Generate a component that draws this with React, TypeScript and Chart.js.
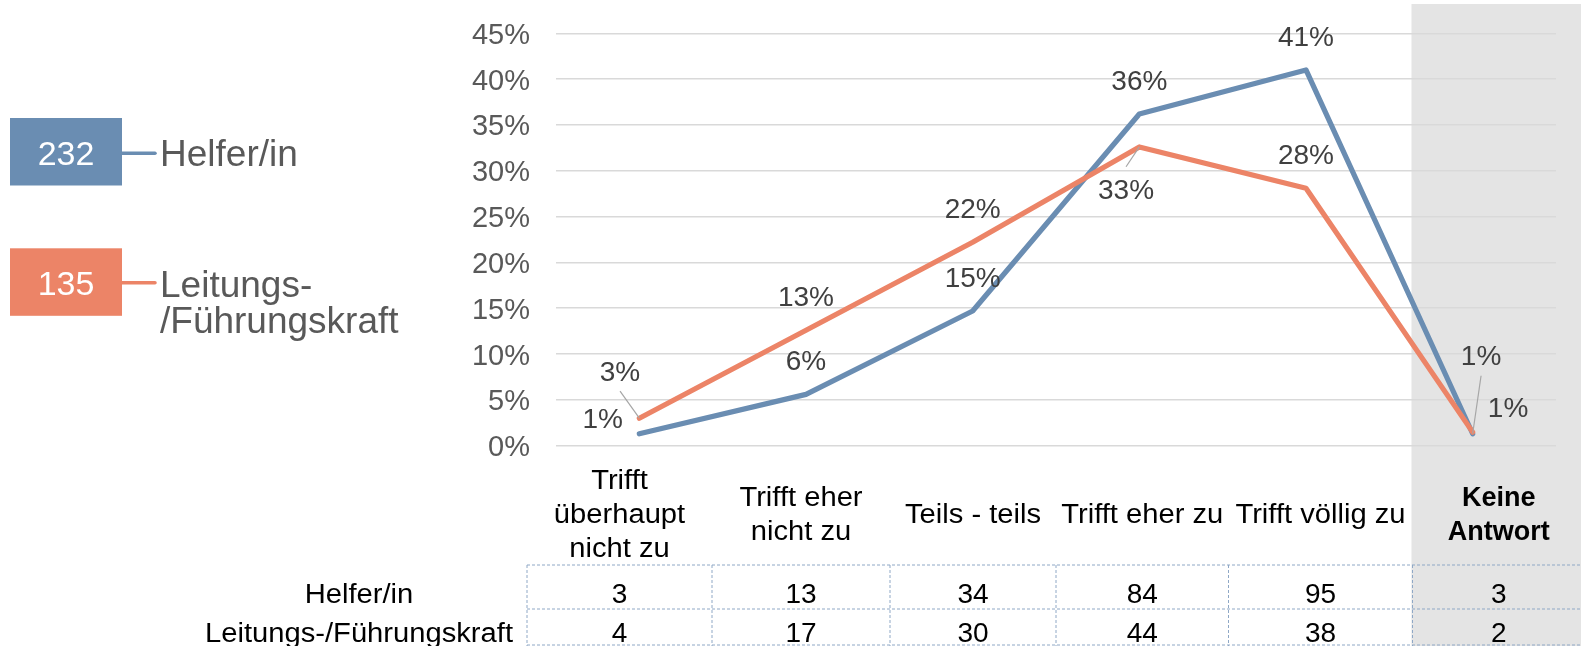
import React, { useEffect, useRef } from "react";
import { Chart, registerables } from "chart.js";

Chart.register(...registerables);

// ---------- data ----------
const categories: string[][] = [
  ["Trifft", "überhaupt", "nicht zu"],
  ["Trifft eher", "nicht zu"],
  ["Teils - teils"],
  ["Trifft eher zu"],
  ["Trifft völlig zu"],
  ["Keine", "Antwort"],
];
const seriesNames = ["Helfer/in", "Leitungs-/Führungskraft"];
const legendLines = [["Helfer/in"], ["Leitungs-", "/Führungskraft"]];
const totals = [232, 135];
const helferPct = [1.3, 5.6, 14.7, 36.2, 41.0, 1.3];
const leitungPct = [3.0, 12.6, 22.2, 32.6, 28.1, 1.48];
const helferCounts = [3, 13, 34, 84, 95, 3];
const leitungCounts = [4, 17, 30, 44, 38, 2];
const yMax = 45;
const yStep = 5;

// ---------- styles / layout ----------
const W = 1581;
const H = 646;
const FONT = '"Liberation Sans", Arial, sans-serif';
const BLUE = "#6A8DB2";
const ORANGE = "#EC8467";
const GRAY_BAND = "#E4E4E4";
const TABLE_BORDER = "#8FA8C6";
const PLOT_TOP = 33.3;
const PLOT_BOTTOM = 445.7;
// data label offsets relative to the point (label centre), and optional leader start offsets
const helferLabelOff = [[-36.6, -15.7], [0, -34], [0, -34], [0, -33.5], [0, -33.7], [8.4, -79]];
const leitungLabelOff = [[-19.3, -47], [0, -34], [0, -34], [-13.3, 42.3], [0, -33.7], [35.4, -24.8]];
const helferLeader: (number[] | null)[] = [null, null, null, null, null, [0, 21]];
const leitungLeader: (number[] | null)[] = [[0, 20], null, null, [0, -22.5], null, null];
const colEdges = [527, 712, 890, 1056, 1228.5, 1412.5, 1585];
const rowLineY = [565, 609, 645];
const rowBaselines = [603.3, 641.7];
const rowLabelX = 359;
const TEXT_SX = 1.08;

function stretchedText(ctx: any, text: string, x: number, y: number, sx: number) {
  ctx.save();
  ctx.translate(x, y);
  ctx.scale(sx, 1);
  ctx.textAlign = "center";
  ctx.fillText(text, 0, 0);
  ctx.restore();
}

const customPlugin = {
  id: "custom",
  beforeDraw(chart: any) {
    const ctx = chart.ctx;
    ctx.save();
    ctx.fillStyle = GRAY_BAND;
    ctx.fillRect(colEdges[5] - 1, 4, W - (colEdges[5] - 1), H - 4);
    ctx.restore();
  },
  afterDraw(chart: any) {
    const ctx = chart.ctx;
    ctx.save();
    // --- data labels ---
    const sets = [
      { vals: helferPct, off: helferLabelOff, lead: helferLeader, idx: 0 },
      { vals: leitungPct, off: leitungLabelOff, lead: leitungLeader, idx: 1 },
    ];
    const dsIndexOf = (name: string) => chart.data.datasets.findIndex((d: any) => d.label === name);
    sets.forEach((s) => {
      const meta = chart.getDatasetMeta(dsIndexOf(seriesNames[s.idx]));
      meta.data.forEach((pt: any, i: number) => {
        const cx = pt.x + s.off[i][0];
        const cy = pt.y + s.off[i][1];
        const ld = s.lead[i];
        if (ld) {
          ctx.strokeStyle = "#A6A6A6";
          ctx.lineWidth = 1.2;
          ctx.beginPath();
          ctx.moveTo(cx + ld[0], cy + ld[1]);
          ctx.lineTo(pt.x, pt.y);
          ctx.stroke();
        }
        ctx.fillStyle = "#404040";
        ctx.font = `28px ${FONT}`;
        ctx.textAlign = "center";
        ctx.textBaseline = "alphabetic";
        ctx.fillText(Math.round(s.vals[i]) + "%", cx, cy + 10);
      });
    });

    // --- category labels ---
    ctx.fillStyle = "#000";
    categories.forEach((lines, i) => {
      const cx = (colEdges[i] + colEdges[i + 1]) / 2;
      const bold = i === categories.length - 1;
      ctx.font = `${bold ? "bold " : ""}27px ${FONT}`;
      lines.forEach((ln, j) => {
        const y = 512.5 + (j - (lines.length - 1) / 2) * 34 + 10;
        stretchedText(ctx, ln, cx, y, bold ? 1.0 : TEXT_SX);
      });
    });

    // --- table ---
    ctx.strokeStyle = TABLE_BORDER;
    ctx.lineWidth = 1;
    ctx.setLineDash([3, 2]);
    rowLineY.forEach((y) => {
      ctx.beginPath();
      ctx.moveTo(colEdges[0], y);
      ctx.lineTo(W, y);
      ctx.stroke();
    });
    colEdges.slice(0, 6).forEach((x) => {
      ctx.beginPath();
      ctx.moveTo(x, rowLineY[0]);
      ctx.lineTo(x, H);
      ctx.stroke();
    });
    ctx.setLineDash([]);
    ctx.fillStyle = "#000";
    [helferCounts, leitungCounts].forEach((row, r) => {
      ctx.font = `27px ${FONT}`;
      stretchedText(ctx, seriesNames[r], rowLabelX, rowBaselines[r], TEXT_SX);
      ctx.font = `28px ${FONT}`;
      row.forEach((v, i) => {
        const cx = (colEdges[i] + colEdges[i + 1]) / 2;
        stretchedText(ctx, String(v), cx, rowBaselines[r], 1.0);
      });
    });

    // --- legend ---
    const boxes = [
      { y: 118, color: BLUE, textBase: 166, lineY: 153.3, numBase: 165 },
      { y: 248.3, color: ORANGE, textBase: 296.7, lineY: 282.7, numBase: 295 },
    ];
    boxes.forEach((b, k) => {
      ctx.fillStyle = b.color;
      ctx.fillRect(10, b.y, 112, 67.5);
      ctx.fillStyle = "#fff";
      ctx.font = `34px ${FONT}`;
      ctx.textAlign = "center";
      ctx.fillText(String(totals[k]), 66, b.numBase);
      ctx.strokeStyle = b.color;
      ctx.lineWidth = 3.5;
      ctx.lineCap = "round";
      ctx.beginPath();
      ctx.moveTo(122, b.lineY);
      ctx.lineTo(155, b.lineY);
      ctx.stroke();
      ctx.fillStyle = "#595959";
      ctx.font = `37px ${FONT}`;
      ctx.textAlign = "left";
      legendLines[k].forEach((ln, j) => {
        ctx.fillText(ln, 160, b.textBase + j * 36.6);
      });
    });
    ctx.restore();
  },
};

export default function App() {
  const ref = useRef<HTMLCanvasElement | null>(null);
  useEffect(() => {
    if (!ref.current) return;
    const yTicks: number[] = [];
    for (let v = 0; v <= yMax; v += yStep) yTicks.push(v);
    const mk = (name: string, data: number[], color: string, order: number) => ({
      label: name,
      data,
      borderColor: color,
      backgroundColor: color,
      borderWidth: 5.2,
      pointRadius: 0,
      tension: 0,
      borderCapStyle: "round",
      borderJoinStyle: "round",
      order,
    });
    const cfg: any = {
      type: "line",
      data: {
        labels: categories.map((c) => c.join(" ")),
        datasets: [mk(seriesNames[0], helferPct, BLUE, 1), mk(seriesNames[1], leitungPct, ORANGE, 0)],
      },
      options: {
        responsive: false,
        animation: false,
        devicePixelRatio: 1,
        layout: { padding: { left: 471, right: 25, top: PLOT_TOP, bottom: H - PLOT_BOTTOM } },
        plugins: { legend: { display: false }, tooltip: { enabled: false } },
        scales: {
          x: { type: "category", offset: true, display: false },
          y: {
            min: 0,
            max: yMax,
            afterFit: (s: any) => {
              s.width = 85;
            },
            afterBuildTicks: (s: any) => {
              s.ticks = yTicks.map((v) => ({ value: v }));
            },
            ticks: {
              stepSize: yStep,
              padding: 0,
              labelOffset: 2.5,
              color: "#595959",
              font: { family: FONT, size: 29 },
              callback: (v: any) => v + "%",
            },
            grid: {
              color: "#D9D9D9",
              lineWidth: 1.5,
              drawTicks: true,
              tickLength: 26,
              tickColor: "rgba(0,0,0,0)",
            },
            border: { display: false },
          },
        },
      },
      plugins: [customPlugin],
    };
    const chart = new Chart(ref.current, cfg);
    return () => chart.destroy();
  }, []);
  return (
    <div style={{ position: "absolute", left: 0, top: 0, width: W, height: H, background: "#fff" }}>
      <canvas ref={ref} width={W} height={H} style={{ display: "block", width: W, height: H }} />
    </div>
  );
}
